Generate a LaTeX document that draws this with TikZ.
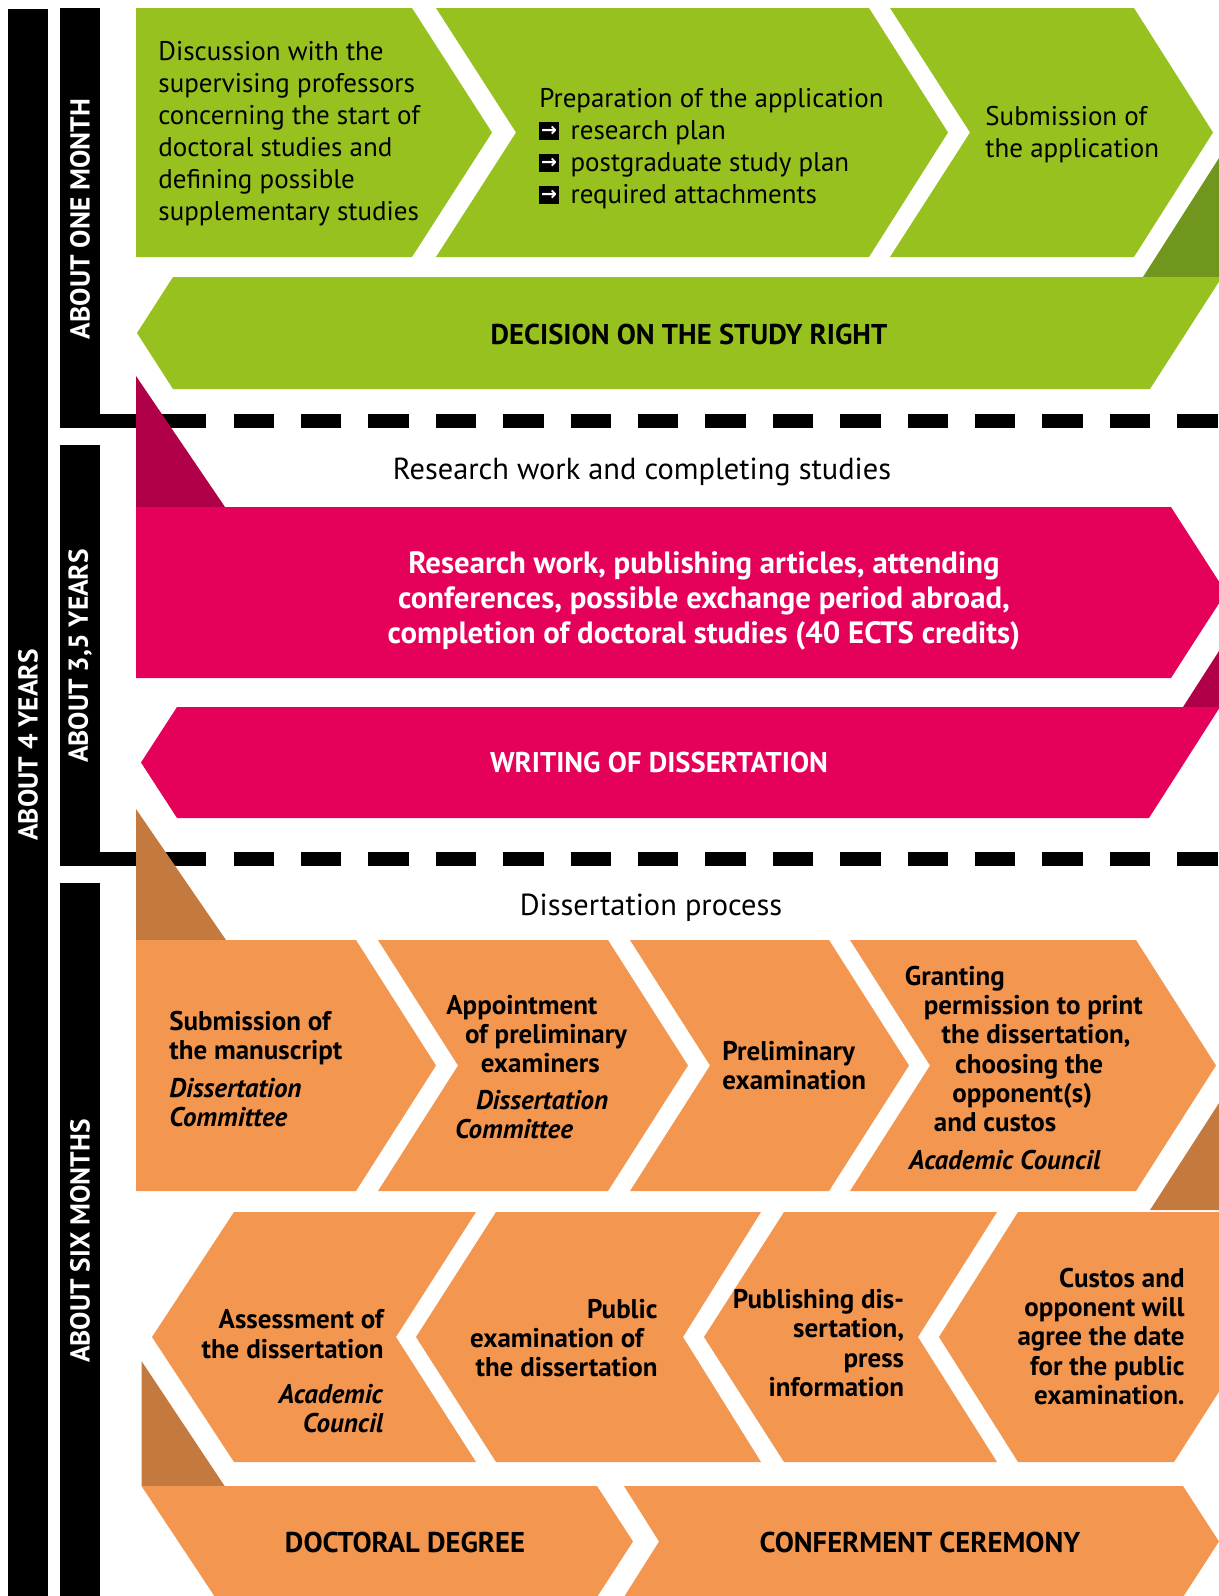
\documentclass[tikz,border=0pt]{standalone}
\usepackage{fontspec}
\setmainfont{PT Sans}
\newfontfamily\symfont{DejaVu Sans}
\definecolor{grn}{HTML}{96C11F}
\definecolor{grndark}{HTML}{71961E}
\definecolor{mag}{HTML}{E5005A}
\definecolor{magdark}{HTML}{B00048}
\definecolor{orng}{HTML}{F29650}
\definecolor{orngdark}{HTML}{C47A3F}
\setlength{\fboxsep}{0.5pt}
\newcommand\arrbullet{\colorbox{black}{\parbox[b][8.2pt][c]{8.6pt}{\centering\color{white}\symfont\bfseries\fontsize{9.5}{9.5}\selectfont →}}\hspace*{6pt}}
\begin{document}
\begin{tikzpicture}[x=0.5pt,y=-0.5pt,
    stepbody/.style={inner sep=0pt,align=left,font=\fontsize{13.5}{16}\selectfont},
    stepbold/.style={inner sep=0pt,font=\bfseries\fontsize{13.5}{14.65}\selectfont},
    capsline/.style={inner sep=0pt,font=\bfseries\fontsize{14.3}{17}\selectfont},
    phaselabel/.style={inner sep=0pt,font=\fontsize{15.2}{18}\selectfont},
    barlabel/.style={inner sep=0pt,rotate=90,text=white,font=\bfseries\fontsize{13.7}{16}\selectfont},
    sep/.style={line width=7pt,dash pattern=on 20.15pt off 13.55pt}]
\useasboundingbox(0,0)rectangle(1219,1596);
\clip(0,0)rectangle(1219,1596);
\fill(8,9)rectangle(48,1596);
\fill(60,8)rectangle(100,428);
\fill(60,445)rectangle(100,866);
\fill(60,883)rectangle(100,1596);
\fill(100,414)rectangle(206,428);
\fill(100,852)rectangle(206,866);
\draw[sep](233.6,421)--(1219,421);
\draw[sep](233.6,859)--(1219,859);
\node[barlabel](years4)at(28,745){ABOUT 4 YEARS};
\node[barlabel](month)at(80,219){ABOUT ONE MONTH};
\node[barlabel](years35)at(80,656){ABOUT 3,5 YEARS};
\node[barlabel](months6)at(80,1241){ABOUT SIX MONTHS};
\fill[grn](136,8)--(412,8)--(492,132.5)--(412,257)--(136,257)--cycle;
\fill[grn](436,8)--(869,8)--(948,132.5)--(869,257)--(436,257)--(516,132.5)--cycle;
\fill[grn](890,8)--(1134,8)--(1213,132.5)--(1134,257)--(890,257)--(970,132.5)--cycle;
\fill[grndark](1219,158)--(1219,277)--(1143,277)--cycle;
\fill[grn](173,277)--(1222,277)--(1150,389)--(173,389)--(137,333)--cycle;
\node[stepbody,anchor=west](talk)at(158,134){Discussion with the\\supervising professors\\concerning the start of\\doctoral studies and\\defining possible\\supplementary studies};
\node[stepbody,anchor=west](prep)at(539,148.5){Preparation of the application\\\arrbullet research plan\\\arrbullet postgraduate study plan\\\arrbullet required attachments};
\node[stepbody,anchor=west](apply)at(985,135){Submission of\\the application};
\node[capsline](decision)at(689,334){DECISION ON THE STUDY RIGHT};
\fill[magdark](136,376)--(136,507)--(225,507)--cycle;
\node[phaselabel](research)at(642,472){Research work and completing studies};
\fill[mag](136,507)--(1171,507)--(1226,592.5)--(1171,678)--(136,678)--cycle;
\fill[magdark](1219,651)--(1219,707)--(1183,707)--cycle;
\fill[mag](177,707)--(1220,707)--(1149,818)--(177,818)--(141,762.5)--cycle;
\node[inner sep=0pt,align=center,text=white,font=\bfseries\fontsize{15.4}{17.3}\selectfont](work)at(704,601){Research work, publishing articles, attending\\conferences, possible exchange period abroad,\\completion of doctoral studies (40 ECTS credits)};
\node[capsline,text=white](writing)at(659,762){WRITING OF DISSERTATION};
\fill[orngdark](136,809)--(136,940)--(226,940)--cycle;
\node[phaselabel](process)at(651,908){Dissertation process};
\fill[orng](136,940)--(356,940)--(436,1065.5)--(356,1191)--(136,1191)--cycle;
\fill[orng](378,940)--(608,940)--(688,1065.5)--(608,1191)--(378,1191)--(458,1065.5)--cycle;
\fill[orng](630,940)--(829,940)--(909,1065.5)--(829,1191)--(630,1191)--(710,1065.5)--cycle;
\fill[orng](850,940)--(1136,940)--(1216,1065.5)--(1136,1191)--(850,1191)--(930,1065.5)--cycle;
\fill[orngdark](1219,1103)--(1219,1210)--(1150,1210)--cycle;
\fill[orng](234,1212)--(476,1212)--(396,1337)--(476,1462)--(234,1462)--(152,1337)--cycle;
\fill[orng](496,1212)--(761,1212)--(683,1337)--(761,1462)--(496,1462)--(416,1337)--cycle;
\fill[orng](784,1212)--(997,1212)--(918,1337)--(997,1462)--(784,1462)--(704,1337)--cycle;
\fill[orng](1018,1212)--(1334,1212)--(1174,1462)--(1018,1462)--(939,1337)--cycle;
\fill[orngdark](141.5,1361)--(141.5,1486)--(224.6,1486)--cycle;
\fill[orng](141.5,1486)--(597,1486)--(633,1541.5)--(597,1597)--(215,1597)--cycle;
\fill[orng](624,1486)--(1183,1486)--(1219,1541.5)--(1183,1597)--(624,1597)--(659,1541.5)--cycle;
\node[stepbold,align=left,anchor=west](manuscript)at(169,1069){Submission of\\the manuscript\\[4pt]\textit{Dissertation}\\\textit{Committee}};
\node[stepbold,align=left,anchor=west](examiners)at(446,1067){Appointment\\\hspace*{9.3pt}of preliminary\\\hspace*{17.2pt}examiners\\[3.7pt]\hspace*{14.8pt}\textit{Dissertation}\\\hspace*{4.3pt}\textit{Committee}};
\node[stepbold,align=left,anchor=west](prelim)at(722,1065.5){Preliminary\\examination};
\node[stepbold,align=left,anchor=west](permission)at(904.5,1068){Granting\\\hspace*{9.5pt}permission to print\\\hspace*{18.4pt}the dissertation,\\\hspace*{25.1pt}choosing the\\\hspace*{23.7pt}opponent(s)\\\hspace*{14.5pt}and custos\\[4.3pt]\hspace*{2pt}\textit{Academic Council}};
\node[stepbold,align=right,anchor=east](assessment)at(384,1371.5){Assessment of\\the dissertation\\[8pt]\textit{Academic}\\\textit{Council}};
\node[stepbold,align=right,anchor=east](public)at(658,1338){Public\\\mbox{examination of\hspace*{7pt}}\\the dissertation};
\node[stepbold,align=right,anchor=east](publishing)at(904.5,1343){Publishing dis-\\sertation,\\press\\information};
\node[stepbold,align=right,anchor=east](date)at(1185,1336.5){Custos and\\opponent will\\agree the date\\for the public\\examination.};
\node[capsline](degree)at(405,1542.5){DOCTORAL DEGREE};
\node[capsline](ceremony)at(920,1542.5){CONFERMENT CEREMONY};
\end{tikzpicture}
\end{document}
